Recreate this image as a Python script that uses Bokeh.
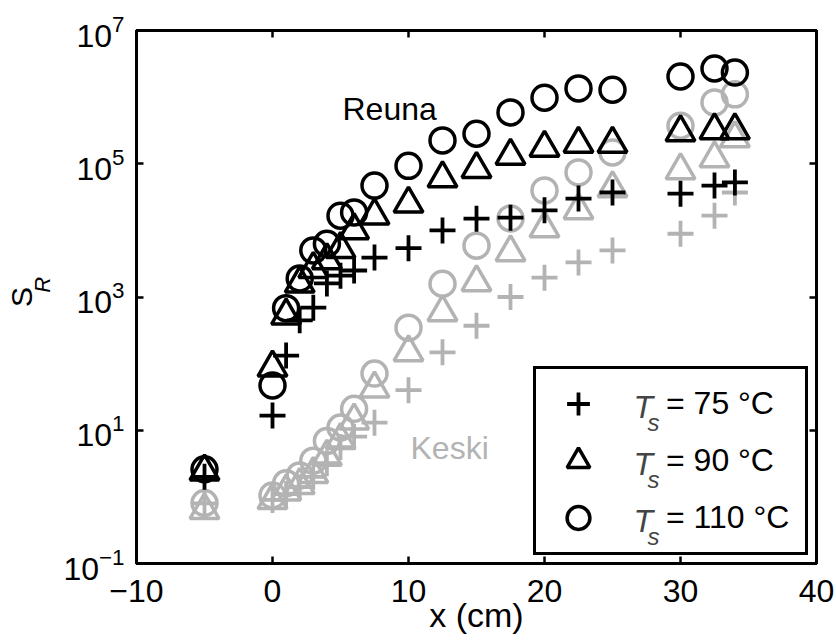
import numpy as np
from bokeh.plotting import figure
from bokeh.models import Range1d, FixedTicker, LinearAxis, Label, Legend, LegendItem, Title
from bokeh.embed import file_html
from bokeh.resources import INLINE

# ---------------- data ----------------
x_pos = [-5, 0, 1, 2, 3, 4, 5, 6, 7.5, 10, 12.5, 15, 17.5, 20, 22.5, 25, 30, 32.5, 34]

# Reuna (black)
reuna_75 = [2.0, 16.6, 132, 447, 692, 1600, 2090, 2500, 3900, 5400, 10000, 15000,
            15500, 20000, 30000, 37000, 35500, 47000, 52500]
reuna_90 = [2.4, 87, 525, 1585, 2630, 3550, 5250, 10000, 16600, 25100, 60300, 83200,
            131800, 173800, 199500, 199500, 295100, 316200, 316200]
reuna_110 = [2.6, 47, 680, 1900, 5000, 6300, 16600, 18600, 47000, 93000, 224000, 282000,
             590000, 980000, 1350000, 1290000, 2040000, 2690000, 2340000]

# Keski (grey)
keski_75 = [0.8, 0.9, 1.1, 1.4, 2.0, 3.2, 5.6, 8.0, 13, 40, 148, 370,
            1000, 1950, 3300, 5000, 8900, 16600, 37000]
keski_90 = [0.63, 0.89, 1.2, 1.5, 2.2, 4.0, 7.1, 14, 42, 148, 590, 1660,
            4680, 10700, 20000, 42700, 79400, 120000, 240000]
keski_110 = [0.81, 1.05, 1.6, 2.1, 3.5, 6.9, 11, 21, 71, 347, 1580, 5900,
             15100, 39800, 74100, 148000, 372000, 832000, 1100000]

x_ticks = [-10, 0, 10, 20, 30, 40]
y_ticks = [0.1, 10, 1e3, 1e5, 1e7]
legend_labels = ["= 75 \u00b0C", "= 90 \u00b0C", "= 110 \u00b0C"]

# ---------------- layout helpers ----------------
FONT = "Liberation Sans"
BLACK = "#000000"
GRAY = "#b3b3b3"
F_LEFT, F_TOP, F_W, F_H = 136, 30, 680, 533   # frame position on page


def px_x(px):
    return -10 + (px - F_LEFT) * 50.0 / F_W


def px_y(py):
    return 10 ** (7 - (py - F_TOP) * 8.0 / F_H)


p = figure(width=836, height=644, x_range=Range1d(-10, 40), y_range=Range1d(0.1, 1e7),
           y_axis_type="log", output_backend="svg", toolbar_location=None,
           min_border_left=F_LEFT, min_border_right=836 - F_LEFT - F_W,
           min_border_top=F_TOP, min_border_bottom=644 - F_TOP - F_H,
           background_fill_color="white", border_fill_color="white")
p.grid.visible = False
p.outline_line_color = "black"
p.outline_line_width = 3

for ax in (p.xaxis[0], p.yaxis[0]):
    ax.axis_line_width = 3
    ax.major_tick_line_width = 2.5
    ax.major_tick_in = 7
    ax.major_tick_out = 0
    ax.minor_tick_line_color = None
    ax.major_label_text_font = FONT
    ax.major_label_text_font_size = "32px"
    ax.major_label_text_color = "black"
    ax.axis_label_text_color = "black"

xa = p.xaxis[0]
xa.ticker = FixedTicker(ticks=x_ticks)
xa.major_label_overrides = {-10: "\u221210"}
xa.major_label_standoff = 16
xa.axis_label = "x (cm)"
xa.axis_label_text_font = FONT
xa.axis_label_text_font_size = "34px"
xa.axis_label_text_font_style = "normal"
xa.axis_label_standoff = -9

ya = p.yaxis[0]
ya.ticker = FixedTicker(ticks=y_ticks)
ya.major_label_standoff = 12
# subscript "R" of S_R (shifted up with no-break spaces)
ya.axis_label = "\u00a0\u00a0\u00a0\u00a0R"
ya.axis_label_text_font = FONT
ya.axis_label_text_font_size = "22px"
ya.axis_label_text_font_style = "italic"
ya.axis_label_standoff = 5

# main letter "S" of S_R
p.add_layout(Title(text="S", align="center", text_font=FONT, text_font_size="30px",
                   text_font_style="normal", text_color="black", standoff=-21), "left")

top_ax = LinearAxis(ticker=FixedTicker(ticks=x_ticks))
right_ax = LinearAxis(ticker=FixedTicker(ticks=y_ticks))
for ax in (top_ax, right_ax):
    ax.axis_line_width = 3
    ax.major_tick_line_width = 2.5
    ax.major_tick_in = 7
    ax.major_tick_out = 0
    ax.minor_tick_line_color = None
    ax.major_label_text_font_size = "1px"
    ax.major_label_text_color = None
    ax.major_label_standoff = 0
p.add_layout(top_ax, "above")
p.add_layout(right_ax, "right")

# ---------------- markers ----------------
def draw(ys, marker, color):
    if marker == "cross":
        return p.scatter(x_pos, ys, marker="cross", size=26, line_color=color, line_width=3.8)
    if marker == "triangle":
        return p.scatter(x_pos, ys, marker="triangle", size=29, line_color=color,
                         fill_color=None, line_width=3.5)
    return p.scatter(x_pos, ys, marker="circle", size=25, line_color=color,
                     fill_color=None, line_width=3.5)


draw(keski_75, "cross", GRAY)
draw(keski_90, "triangle", GRAY)
draw(keski_110, "circle", GRAY)
r75 = draw(reuna_75, "cross", BLACK)
r90 = draw(reuna_90, "triangle", BLACK)
r110 = draw(reuna_110, "circle", BLACK)

# ---------------- legend ----------------
PAD, GW, GH, SP, STANDOFF, MARGIN, LW = 6, 72, 57, 0, 52, 8, 133
legend = Legend(items=[LegendItem(label=legend_labels[0], renderers=[r75]),
                       LegendItem(label=legend_labels[1], renderers=[r90]),
                       LegendItem(label=legend_labels[2], renderers=[r110])],
                location="bottom_right", margin=MARGIN, padding=PAD,
                glyph_width=GW, glyph_height=GH, label_height=GH, label_width=LW,
                spacing=SP, label_standoff=STANDOFF,
                label_text_font=FONT, label_text_font_size="32px",
                label_text_color="black", label_text_baseline="alphabetic",
                border_line_color="black", border_line_width=3, border_line_alpha=1.0,
                background_fill_alpha=0.0)
p.add_layout(legend)

leg_top = F_TOP + F_H - MARGIN - (2 * PAD + 3 * GH + 2 * SP)
for i in range(3):
    row_c = leg_top + PAD + GH / 2 + i * (GH + SP)
    p.add_layout(Label(x=px_x(633), y=px_y(row_c), text="T", text_font=FONT,
                       text_font_size="32px", text_font_style="italic",
                       text_baseline="alphabetic", text_align="left"))
    p.add_layout(Label(x=px_x(647), y=px_y(row_c + 15), text="s", text_font=FONT,
                       text_font_size="24px", text_font_style="italic",
                       text_baseline="alphabetic", text_align="left"))

# ---------------- texts ----------------
p.add_layout(Label(x=px_x(342), y=px_y(108), text="Reuna", text_font=FONT,
                   text_font_size="32px", text_color=BLACK, text_baseline="alphabetic"))
p.add_layout(Label(x=px_x(410), y=px_y(447), text="Keski", text_font=FONT,
                   text_font_size="32px", text_color=GRAY, text_baseline="alphabetic"))

open("out.html", "w").write(file_html(p, INLINE))
